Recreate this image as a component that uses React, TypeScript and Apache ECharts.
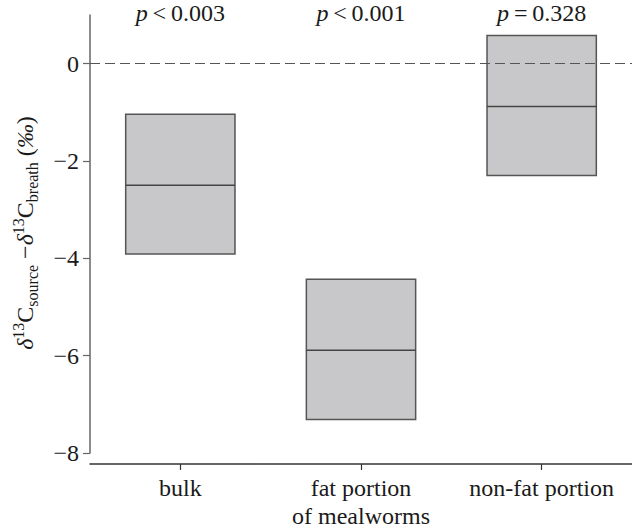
import React, { useEffect, useRef } from "react";
import * as echarts from "echarts";

const categories = ["bulk", "fat portion\nof mealworms", "non-fat portion"];
const boxLow = [-3.91, -7.31, -2.3];
const boxMedian = [-2.5, -5.89, -0.88];
const boxHigh = [-1.04, -4.43, 0.58];
const pOperators = ["<", "<", "="];
const pValues = ["0.003", "0.001", "0.328"];
const yTicks = [-8, -6, -4, -2, 0];
const yMin = -8;
const yMax = 1;
const referenceValue = 0;

const SERIF = "Liberation Serif";

export default function App() {
  const ref = useRef<HTMLDivElement>(null);
  useEffect(() => {
    document.body.style.margin = "0";
    if (!ref.current) return;
    const chart = echarts.init(ref.current, undefined, { renderer: "svg" });
    const boxData = categories.map((_, i) => [i, boxLow[i], boxMedian[i], boxHigh[i]]);
    const pData = categories.map((_, i) => [i, yMax]);
    const option: any = {
      animation: false,
      textStyle: { fontFamily: SERIF },
      grid: { left: 90, right: 0, top: 15, bottom: 76, containLabel: false },
      xAxis: {
        type: "category",
        data: categories,
        boundaryGap: true,
        offset: 11,
        axisLine: { show: true, onZero: false, lineStyle: { color: "#333", width: 1.5 } },
        axisTick: { show: true, alignWithLabel: true, length: 6, lineStyle: { color: "#333", width: 1.2 } },
        axisLabel: {
          fontFamily: SERIF,
          fontSize: 24,
          color: "#1a1a1a",
          margin: 10,
          lineHeight: 28,
          interval: 0,
        },
        splitLine: { show: false },
      },
      yAxis: {
        type: "value",
        min: yMin,
        max: yMax,
        axisLine: { show: true, lineStyle: { color: "#666", width: 1.5 } },
        axisTick: { show: true, length: 7, customValues: yTicks, lineStyle: { color: "#666", width: 1.2 } },
        axisLabel: {
          customValues: yTicks,
          fontFamily: SERIF,
          fontSize: 24,
          color: "#1a1a1a",
          margin: 11,
          formatter: (v: number) => (v < 0 ? "\u2212" + Math.abs(v) : String(v)),
        },
        splitLine: { show: false },
        name:
          "{d|δ}{sup|13}{m|C}{sub|source}{m| \u2212}{d|δ}{sup|13}{m|C}{sub|breath}{m| (}{d|‰}{m|)}",
        nameLocation: "middle",
        nameGap: 50,
        nameRotate: 90,
        nameTextStyle: {
          padding: [0, 0, 0, 2],
          rich: {
            m: { fontFamily: SERIF, fontSize: 24, color: "#1a1a1a", lineHeight: 30, verticalAlign: "middle" },
            d: { fontFamily: SERIF, fontSize: 24, fontStyle: "italic", color: "#1a1a1a", lineHeight: 30, verticalAlign: "middle" },
            sup: { fontFamily: SERIF, fontSize: 16, color: "#1a1a1a", lineHeight: 16, verticalAlign: "top" },
            sub: { fontFamily: SERIF, fontSize: 16, color: "#1a1a1a", lineHeight: 14, verticalAlign: "bottom" },
          },
        },
      },
      series: [
        {
          type: "custom",
          z: 2,
          data: boxData,
          encode: { x: 0, y: [1, 2, 3] },
          renderItem: (params: any, api: any) => {
            const i = api.value(0);
            const lo = api.coord([i, api.value(1)]);
            const med = api.coord([i, api.value(2)]);
            const hi = api.coord([i, api.value(3)]);
            const w = api.size([1, 0])[0] * 0.605;
            return {
              type: "group",
              children: [
                {
                  type: "rect",
                  shape: { x: lo[0] - w / 2, y: hi[1], width: w, height: lo[1] - hi[1] },
                  style: { fill: "#c8c8ca", stroke: "#555", lineWidth: 1.5 },
                },
                {
                  type: "line",
                  shape: { x1: lo[0] - w / 2, y1: med[1], x2: lo[0] + w / 2, y2: med[1] },
                  style: { stroke: "#444", lineWidth: 1.5 },
                },
              ],
            };
          },
        },
        {
          type: "custom",
          z: 4,
          data: pData,
          encode: { x: 0, y: 1 },
          clip: false,
          renderItem: (params: any, api: any) => {
            const idx = params.dataIndex;
            const c = api.coord([api.value(0), api.value(1)]);
            return {
              type: "text",
              x: c[0],
              y: c[1] - 2,
              style: {
                text: `{i|p}{n|\u2009${pOperators[idx]}\u2009${pValues[idx]}}`,
                align: "center",
                verticalAlign: "middle",
                fontFamily: SERIF,
                fontSize: 24,
                rich: {
                  i: { fontFamily: SERIF, fontSize: 24, fontStyle: "italic", fill: "#1a1a1a" },
                  n: { fontFamily: SERIF, fontSize: 24, fill: "#1a1a1a" },
                },
              },
            };
          },
          markLine: {
            silent: true,
            symbol: "none",
            label: { show: false },
            lineStyle: { color: "#555", width: 1.2, type: [10, 5] },
            data: [{ yAxis: referenceValue }],
          },
        },
      ],
    };
    chart.setOption(option);
    return () => chart.dispose();
  }, []);
  return <div ref={ref} style={{ width: 632, height: 530 }} />;
}
